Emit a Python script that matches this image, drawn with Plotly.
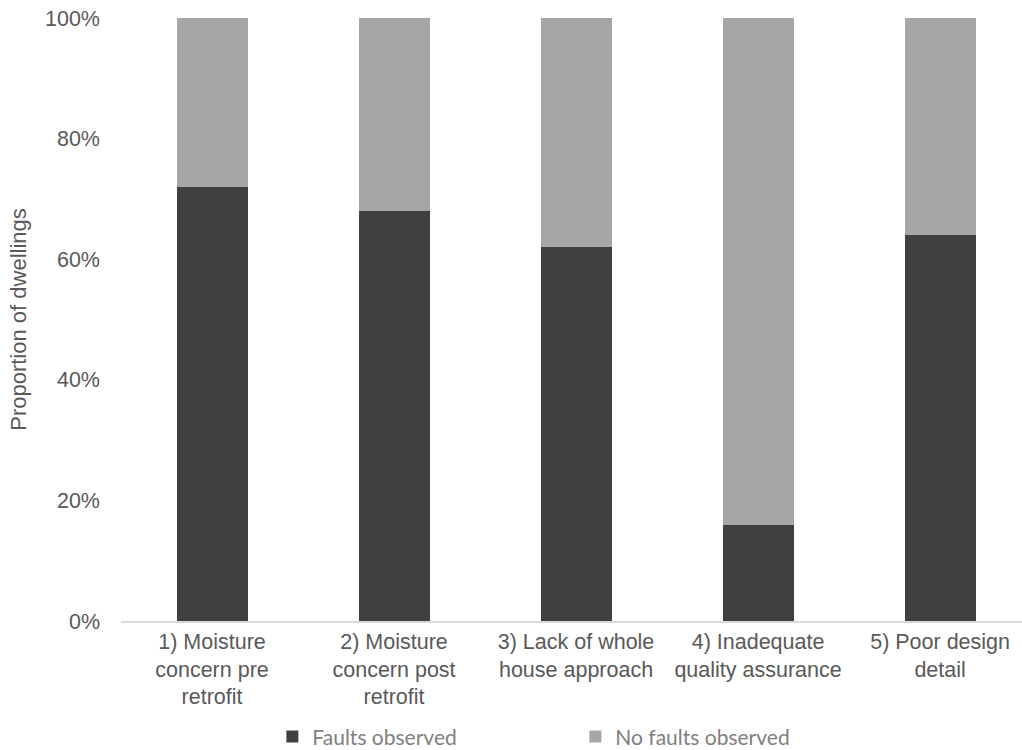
import plotly.graph_objects as go

categories = [
    "1) Moisture<br>concern pre<br>retrofit",
    "2) Moisture<br>concern post<br>retrofit",
    "3) Lack of whole<br>house approach",
    "4) Inadequate<br>quality assurance",
    "5) Poor design<br>detail",
]
faults = [0.72, 0.68, 0.62, 0.16, 0.64]
no_faults = [0.28, 0.32, 0.38, 0.84, 0.36]
series_names = ["Faults observed", "No faults observed"]
tick_vals = [0, 0.2, 0.4, 0.6, 0.8, 1.0]
tick_text = ["0%", "20%", "40%", "60%", "80%", "100%"]

fig = go.Figure()
fig.add_trace(go.Bar(x=categories, y=faults, name=series_names[0],
                     marker=dict(color="#404040", line=dict(width=0)), width=0.39))
fig.add_trace(go.Bar(x=categories, y=no_faults, name=series_names[1],
                     marker=dict(color="#a6a6a6", line=dict(width=0)), width=0.39))

fig.update_layout(
    barmode="stack",
    width=1022, height=750,
    margin=dict(l=121, r=0, t=18, b=129, autoexpand=False),
    plot_bgcolor="white", paper_bgcolor="white",
    font=dict(family="Liberation Sans, Arial, sans-serif", size=21, color="#595959"),
    showlegend=True,
    legend=dict(orientation="h", x=0.168, xanchor="left", y=-0.192, yanchor="middle",
                entrywidth=258, entrywidthmode="pixels",
                font=dict(family="Lato, sans-serif", size=21, color="#808080"),
                traceorder="normal"),
    xaxis=dict(range=[-0.5, 4.45], showline=True, linecolor="#d9d9d9", linewidth=1.5,
               ticks="", showgrid=False, automargin=False,
               tickfont=dict(size=21.5, color="#595959")),
    yaxis=dict(range=[0, 1.0], tickvals=tick_vals, ticktext=tick_text, showgrid=False,
               zeroline=False, showline=False, ticks="", ticklabelstandoff=20,
               automargin=True,
               tickfont=dict(size=21.5, color="#595959"),
               title=dict(text="Proportion of dwellings", font=dict(size=22, color="#595959"),
                          standoff=12)),
)

fig.write_html("out.html")
